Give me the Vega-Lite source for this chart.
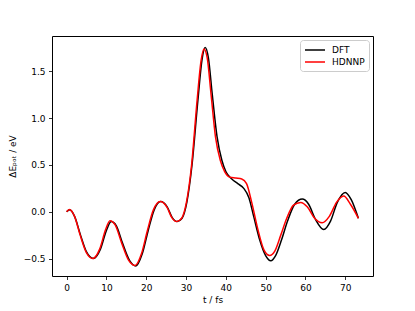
{
  "$schema": "https://vega.github.io/schema/vega-lite/v6.json",
  "width": 321,
  "height": 240,
  "autosize": "none",
  "padding": {"left": 52, "top": 36, "right": 42, "bottom": 35},
  "background": "white",
  "config": {
    "font": "DejaVu Sans",
    "view": {"stroke": "black", "strokeWidth": 1},
    "axis": {
      "domain": false,
      "grid": false,
      "tickColor": "black",
      "tickSize": 3.5,
      "tickWidth": 0.8,
      "labelFont": "DejaVu Sans",
      "labelFontSize": 9,
      "labelColor": "black",
      "titleFont": "DejaVu Sans",
      "titleFontSize": 9,
      "titleFontWeight": "normal",
      "titleColor": "black",
      "labelPadding": 3.5
    }
  },
  "data": {
    "values": [
      {"t": 0, "y": 0.0, "s": "DFT"},
      {"t": 0.8, "y": 0.02, "s": "DFT"},
      {"t": 2, "y": -0.05, "s": "DFT"},
      {"t": 3.5, "y": -0.25, "s": "DFT"},
      {"t": 5, "y": -0.43, "s": "DFT"},
      {"t": 6.7, "y": -0.5, "s": "DFT"},
      {"t": 8.5, "y": -0.4, "s": "DFT"},
      {"t": 10, "y": -0.2, "s": "DFT"},
      {"t": 11.2, "y": -0.105, "s": "DFT"},
      {"t": 12.5, "y": -0.15, "s": "DFT"},
      {"t": 14, "y": -0.33, "s": "DFT"},
      {"t": 15.8, "y": -0.52, "s": "DFT"},
      {"t": 17.4, "y": -0.58, "s": "DFT"},
      {"t": 19, "y": -0.45, "s": "DFT"},
      {"t": 20.5, "y": -0.2, "s": "DFT"},
      {"t": 22, "y": 0.02, "s": "DFT"},
      {"t": 23.6, "y": 0.11, "s": "DFT"},
      {"t": 25.3, "y": 0.05, "s": "DFT"},
      {"t": 26.5, "y": -0.06, "s": "DFT"},
      {"t": 27.8, "y": -0.105, "s": "DFT"},
      {"t": 29, "y": -0.07, "s": "DFT"},
      {"t": 30.2, "y": 0.1, "s": "DFT"},
      {"t": 31.5, "y": 0.5, "s": "DFT"},
      {"t": 33, "y": 1.2, "s": "DFT"},
      {"t": 34, "y": 1.62, "s": "DFT"},
      {"t": 34.8, "y": 1.755, "s": "DFT"},
      {"t": 35.6, "y": 1.65, "s": "DFT"},
      {"t": 36.6, "y": 1.25, "s": "DFT"},
      {"t": 37.8, "y": 0.8, "s": "DFT"},
      {"t": 39, "y": 0.55, "s": "DFT"},
      {"t": 40, "y": 0.43, "s": "DFT"},
      {"t": 41.5, "y": 0.35, "s": "DFT"},
      {"t": 43, "y": 0.3, "s": "DFT"},
      {"t": 44.5, "y": 0.25, "s": "DFT"},
      {"t": 45.8, "y": 0.15, "s": "DFT"},
      {"t": 47, "y": -0.05, "s": "DFT"},
      {"t": 48.5, "y": -0.3, "s": "DFT"},
      {"t": 50, "y": -0.47, "s": "DFT"},
      {"t": 51.3, "y": -0.525, "s": "DFT"},
      {"t": 52.5, "y": -0.47, "s": "DFT"},
      {"t": 54, "y": -0.3, "s": "DFT"},
      {"t": 55.5, "y": -0.1, "s": "DFT"},
      {"t": 57.3, "y": 0.08, "s": "DFT"},
      {"t": 59.2, "y": 0.135, "s": "DFT"},
      {"t": 60.8, "y": 0.08, "s": "DFT"},
      {"t": 62.5, "y": -0.08, "s": "DFT"},
      {"t": 64.6, "y": -0.19, "s": "DFT"},
      {"t": 66.3, "y": -0.1, "s": "DFT"},
      {"t": 68, "y": 0.1, "s": "DFT"},
      {"t": 70, "y": 0.207, "s": "DFT"},
      {"t": 71.5, "y": 0.13, "s": "DFT"},
      {"t": 73.3, "y": -0.07, "s": "DFT"},
      {"t": 0, "y": 0.0, "s": "HDNNP"},
      {"t": 0.7, "y": 0.025, "s": "HDNNP"},
      {"t": 2, "y": -0.05, "s": "HDNNP"},
      {"t": 3.4, "y": -0.25, "s": "HDNNP"},
      {"t": 5, "y": -0.44, "s": "HDNNP"},
      {"t": 6.6, "y": -0.5, "s": "HDNNP"},
      {"t": 8.3, "y": -0.4, "s": "HDNNP"},
      {"t": 9.8, "y": -0.19, "s": "HDNNP"},
      {"t": 10.9, "y": -0.095, "s": "HDNNP"},
      {"t": 12.2, "y": -0.14, "s": "HDNNP"},
      {"t": 13.8, "y": -0.33, "s": "HDNNP"},
      {"t": 15.6, "y": -0.52, "s": "HDNNP"},
      {"t": 17.2, "y": -0.575, "s": "HDNNP"},
      {"t": 18.8, "y": -0.45, "s": "HDNNP"},
      {"t": 20.3, "y": -0.2, "s": "HDNNP"},
      {"t": 21.8, "y": 0.02, "s": "HDNNP"},
      {"t": 23.5, "y": 0.11, "s": "HDNNP"},
      {"t": 25.2, "y": 0.05, "s": "HDNNP"},
      {"t": 26.4, "y": -0.06, "s": "HDNNP"},
      {"t": 27.7, "y": -0.105, "s": "HDNNP"},
      {"t": 28.9, "y": -0.07, "s": "HDNNP"},
      {"t": 30.1, "y": 0.1, "s": "HDNNP"},
      {"t": 31.4, "y": 0.5, "s": "HDNNP"},
      {"t": 32.8, "y": 1.2, "s": "HDNNP"},
      {"t": 33.8, "y": 1.62, "s": "HDNNP"},
      {"t": 34.5, "y": 1.74, "s": "HDNNP"},
      {"t": 35.3, "y": 1.65, "s": "HDNNP"},
      {"t": 36.3, "y": 1.25, "s": "HDNNP"},
      {"t": 37.4, "y": 0.8, "s": "HDNNP"},
      {"t": 38.6, "y": 0.55, "s": "HDNNP"},
      {"t": 39.7, "y": 0.43, "s": "HDNNP"},
      {"t": 41, "y": 0.37, "s": "HDNNP"},
      {"t": 42.5, "y": 0.36, "s": "HDNNP"},
      {"t": 44, "y": 0.35, "s": "HDNNP"},
      {"t": 45.2, "y": 0.3, "s": "HDNNP"},
      {"t": 46.5, "y": 0.1, "s": "HDNNP"},
      {"t": 48, "y": -0.18, "s": "HDNNP"},
      {"t": 49.6, "y": -0.41, "s": "HDNNP"},
      {"t": 51, "y": -0.467, "s": "HDNNP"},
      {"t": 52.3, "y": -0.42, "s": "HDNNP"},
      {"t": 53.8, "y": -0.25, "s": "HDNNP"},
      {"t": 55.3, "y": -0.07, "s": "HDNNP"},
      {"t": 57, "y": 0.07, "s": "HDNNP"},
      {"t": 58.8, "y": 0.1, "s": "HDNNP"},
      {"t": 60.5, "y": 0.05, "s": "HDNNP"},
      {"t": 62.3, "y": -0.07, "s": "HDNNP"},
      {"t": 64.2, "y": -0.118, "s": "HDNNP"},
      {"t": 66, "y": -0.05, "s": "HDNNP"},
      {"t": 67.8, "y": 0.1, "s": "HDNNP"},
      {"t": 69.6, "y": 0.168, "s": "HDNNP"},
      {"t": 71.3, "y": 0.08, "s": "HDNNP"},
      {"t": 73.3, "y": -0.07, "s": "HDNNP"}
    ]
  },
  "mark": {"type": "line", "interpolate": "monotone", "strokeWidth": 1.5},
  "encoding": {
    "x": {
      "field": "t",
      "type": "quantitative",
      "scale": {"domain": [-3.67, 76.97], "nice": false, "zero": false},
      "axis": {"values": [0, 10, 20, 30, 40, 50, 60, 70], "title": "t / fs", "titlePadding": 3}
    },
    "y": {
      "field": "y",
      "type": "quantitative",
      "scale": {"domain": [-0.687, 1.879], "nice": false, "zero": false},
      "axis": {"values": [-0.5, 0, 0.5, 1.0, 1.5], "format": ".1f", "title": "ΔEₚₒₜ / eV", "titlePadding": 6}
    },
    "color": {
      "field": "s",
      "type": "nominal",
      "scale": {"domain": ["DFT", "HDNNP"], "range": ["#000000", "#ff0000"]},
      "legend": {
        "title": null,
        "orient": "top-right",
        "offset": 4,
        "symbolType": "M-1,0H3",
        "symbolSize": 100,
        "symbolStrokeWidth": 1.5,
        "symbolFillColor": "transparent",
        "labelFontSize": 9,
        "labelOffset": 16,
        "labelFont": "DejaVu Sans",
        "labelColor": "black",
        "fillColor": "white",
        "strokeColor": "#cccccc",
        "cornerRadius": 3,
        "padding": 4,
        "rowPadding": 1
      }
    }
  }
}
